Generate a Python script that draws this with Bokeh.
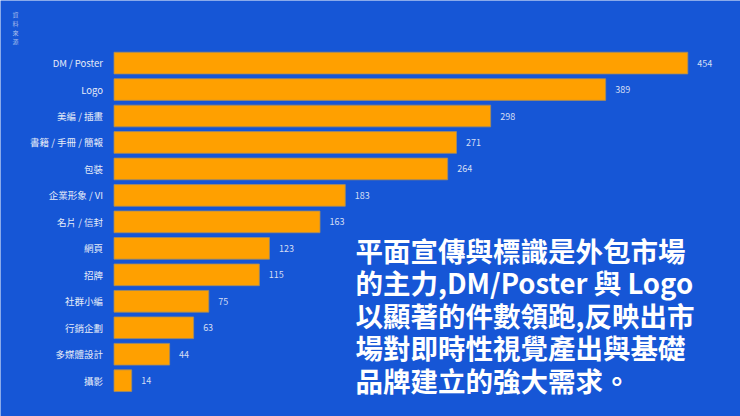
from bokeh.plotting import figure
from bokeh.models import Range1d, ColumnDataSource, Label
from bokeh.core.properties import value
from bokeh.embed import file_html
from bokeh.resources import INLINE

categories = ["DM / Poster", "Logo", "美編 / 插畫", "書籍 / 手冊 / 簡報", "包裝",
              "企業形象 / VI", "名片 / 信封", "網頁", "招牌", "社群小編",
              "行銷企劃", "多媒體設計", "攝影"]
counts = [454, 389, 298, 271, 264, 183, 163, 123, 115, 75, 63, 44, 14]
value_labels = [str(c) for c in counts]
headline_lines = ["平面宣傳與標識是外包市場",
                  "的主力,DM/Poster 與 Logo",
                  "以顯著的件數領跑,反映出市",
                  "場對即時性視覺產出與基礎",
                  "品牌建立的強大需求。"]
corner_note = "資\n料\n來\n源"

BG = "#1656D6"
n = len(categories)
ypos = [n - 1 - i for i in range(n)]

src = ColumnDataSource(dict(y=ypos, cat=categories, val=counts, lab=value_labels,
                            zero=[0] * n))

# layout constants (pixels)
W, H = 740, 416
BAR_X0 = 113.5
PX_PER_UNIT_X = 1.2639
ROW0_Y = 380.2      # screen y of the last row centre
PX_PER_ROW = 26.47

def data_x(sx):
    return (sx - BAR_X0) / PX_PER_UNIT_X

def data_y(sy):
    return (ROW0_Y - sy) / PX_PER_ROW

p = figure(width=W, height=H, output_backend="svg", toolbar_location=None,
           x_range=Range1d(data_x(0), data_x(W)),
           y_range=Range1d(data_y(H), data_y(0)),
           min_border=0, min_border_left=0, min_border_right=0,
           min_border_top=0, min_border_bottom=0)
p.background_fill_color = BG
p.border_fill_color = BG
p.outline_line_color = None
p.axis.visible = False
p.grid.visible = False

p.hbar(y="y", left=0, right="val", height=0.82, source=src,
       fill_color="#FFA000", line_color="#A08C66", line_width=0.8)

p.text(x="zero", y="y", text="cat", source=src, x_offset=-11,
       text_align="right", text_baseline="middle", text_font_size="9.5px",
       text_color="#E6ECF8", text_font=value("Noto Sans CJK TC"))

p.text(x="val", y="y", text="lab", source=src, x_offset=9.5,
       text_align="left", text_baseline="middle", text_font_size="9px",
       text_color="#D5DEF4", text_font=value("Noto Sans CJK TC"))

for k, line in enumerate(headline_lines):
    p.add_layout(Label(x=data_x(355), y=data_y(229.5 + 32.4 * k), text=line,
                       text_align="left", text_baseline="top",
                       text_font_size="27.5px", text_font_style="bold",
                       text_color="white", text_font="Noto Sans CJK TC"))

p.add_layout(Label(x=data_x(12), y=data_y(9), text=corner_note, text_align="left",
                   text_baseline="top", text_font_size="6px",
                   text_color="#A9BDEB", text_line_height=1.0,
                   text_font="Noto Sans CJK TC"))

open("out.html", "w").write(file_html(p, INLINE))
